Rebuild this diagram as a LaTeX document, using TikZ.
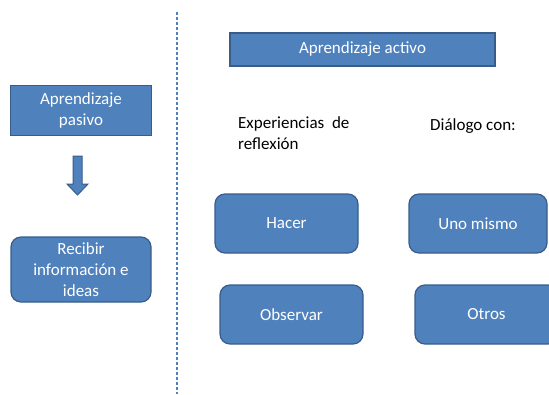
\documentclass[tikz,border=0pt]{standalone}
\usepackage{fontspec}
\setmainfont{Carlito}
\definecolor{boxfill}{HTML}{4F81BD}
\definecolor{boxline}{HTML}{385D8A}
\begin{document}
\begin{tikzpicture}[x=1pt,y=-1pt,
  every node/.style={font=\fontsize{17}{21}\selectfont},
  sqbox/.style={draw=boxline,line width=1.2pt,fill=boxfill,text=white,align=center},
  rbox/.style={sqbox,rounded corners=10pt},
  plain/.style={text=black,align=left,anchor=north west,inner sep=0pt}]
\useasboundingbox (0,0) rectangle (549,394);
\clip (0,0) rectangle (549,394);
% divider
\coordinate (dtop) at (177,12);
\coordinate (dbot) at (177,394);
\draw[boxfill,line width=1.2pt,dash pattern=on 3pt off 2pt] (dtop) -- (dbot);
% left column
\node[sqbox,minimum width=141pt,minimum height=50pt] (pasivo) at (81,110.5) {Aprendizaje\\pasivo};
\node[rbox,minimum width=140pt,minimum height=65pt] (recibir) at (81,269.5) {Recibir\\información e\\ideas};
\draw[boxline,line width=1pt,fill=boxfill] (73,156) -- (82,156) -- (82,184) -- (88,184) -- (77.5,195) -- (67,184) -- (73,184) -- cycle;
% right part
\node[sqbox,minimum width=265pt,minimum height=33pt] (activo) at (362.5,49.5) {Aprendizaje activo};
\node[plain] (exp) at (238,116) {Experiencias\ \ de\\reflexión};
\node[plain] (dia) at (430,118) {Diálogo con:};
\node[rbox,minimum width=143pt,minimum height=59pt] (hacer) at (286.5,223.5) {Hacer};
\node[rbox,minimum width=138pt,minimum height=59pt] (uno) at (478,223.5) {Uno mismo};
\node[rbox,minimum width=143pt,minimum height=59pt] (obs) at (291.5,314.5) {Observar};
\node[rbox,minimum width=143pt,minimum height=59pt] (otros) at (486.5,314.5) {Otros};
\end{tikzpicture}
\end{document}
